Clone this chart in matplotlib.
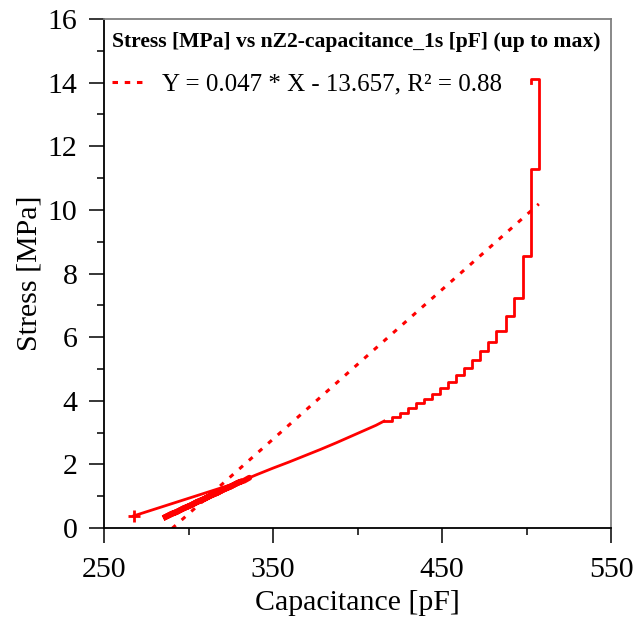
import matplotlib.pyplot as plt
from matplotlib.lines import Line2D

plt.rcParams['font.family'] = ['Liberation Serif', 'DejaVu Serif']

# first point and the line up to the loops
first_cap = [267.5, 331.0]
first_stress = [0.38, 1.46]

# dense loading/unloading loops at low stress
band_cap = [331.0, 285.0, 290.0, 293.0, 297.0, 301.0, 305.0, 309.0, 313.0,
            317.0, 321.0, 325.0, 329.0, 333.0, 336.0]
band_stress = [1.46, 0.31, 0.45, 0.50, 0.62, 0.70, 0.82, 0.90, 1.02,
               1.10, 1.22, 1.30, 1.42, 1.49, 1.58]

# smooth rise after the loops
rise_cap = [336.0, 340.5, 349.9, 359.3, 368.7, 378.1, 387.5, 396.9, 406.3,
            411.0, 415.7]
rise_stress = [1.58, 1.68, 1.88, 2.07, 2.27, 2.47, 2.68, 2.90, 3.12,
               3.23, 3.36]

# stepped part of the curve up to max
stair_cap = [415.7, 420.4, 425.1, 429.8, 434.5, 439.2, 443.9, 448.6,
             453.4, 458.1, 462.8, 467.5, 472.2, 477.0, 482.0, 487.7,
             492.4, 497.8, 502.5, 507.3, 502.5]
stair_stress = [3.36, 3.49, 3.63, 3.78, 3.93, 4.07, 4.21, 4.40,
                4.60, 4.81, 5.03, 5.28, 5.55, 5.86, 6.19, 6.66,
                7.22, 8.55, 11.30, 14.10, 14.00]

fit_slope = 0.047
fit_intercept = -13.657
fit_r2 = 0.88

x_ticks = [250, 350, 450, 550]
x_minor = [300, 400, 500]
y_ticks = [0, 2, 4, 6, 8, 10, 12, 14, 16]
y_minor = [1, 3, 5, 7, 9, 11, 13, 15]

fig = plt.figure(figsize=(6.44, 6.19), dpi=100)
ax = fig.add_axes([104 / 644, 1 - 528 / 619, 507 / 644, 509 / 619])

red = '#ff0000'
ax.plot(first_cap, first_stress, color=red, lw=2)
ax.plot(band_cap, band_stress, color=red, lw=4.2, solid_capstyle='round',
        solid_joinstyle='miter')
ax.plot(rise_cap, rise_stress, color=red, lw=2)
ax.plot(stair_cap, stair_stress, color=red, lw=2, drawstyle='steps-post')
ax.plot(first_cap[0], first_stress[0], color=red, marker='+', ms=9, mew=2)

fit_x = [first_cap[0], max(stair_cap)]
fit_y = [fit_slope * x + fit_intercept for x in fit_x]
ax.plot(fit_x, fit_y, color=red, lw=2.2, linestyle=(0, (1.6, 2.6)))

ax.set_xlim(250, 550)
ax.set_ylim(0, 16)
ax.set_xticks(x_ticks)
ax.set_xticks(x_minor, minor=True)
ax.set_yticks(y_ticks)
ax.set_yticks(y_minor, minor=True)
ax.tick_params(which='major', direction='out', length=11, width=1.1,
               labelsize=21.5)
ax.tick_params(which='minor', direction='out', length=5, width=1.1)
ax.tick_params(axis='x', which='major', pad=10)
ax.tick_params(axis='y', which='major', pad=8)

for side in ['left', 'bottom']:
    ax.spines[side].set_color('black')
    ax.spines[side].set_linewidth(1.3)
for side in ['top', 'right']:
    ax.spines[side].set_color('#7f7f7f')
    ax.spines[side].set_linewidth(1.3)

ax.set_xlabel('Capacitance [pF]', fontsize=21.5, labelpad=5)
ax.set_ylabel('Stress [MPa]', fontsize=21.5, labelpad=4)

handle = Line2D([], [], color=red, lw=2.2, linestyle=(0, (1.8, 2.2)))
label = f'Y = {fit_slope} * X - {abs(fit_intercept)}, R\u00b2 = {fit_r2}'
leg = ax.legend([handle], [label], loc='upper left',
                bbox_to_anchor=(0.0, 0.99), frameon=False,
                title='Stress [MPa] vs nZ2-capacitance_1s [pF] (up to max)',
                title_fontproperties={'weight': 'bold', 'size': 15.6},
                fontsize=18, alignment='left', handlelength=1.2,
                borderaxespad=0.0, borderpad=0.3, handletextpad=0.8,
                labelspacing=0.85)

fig.savefig('out.png', dpi=100)
